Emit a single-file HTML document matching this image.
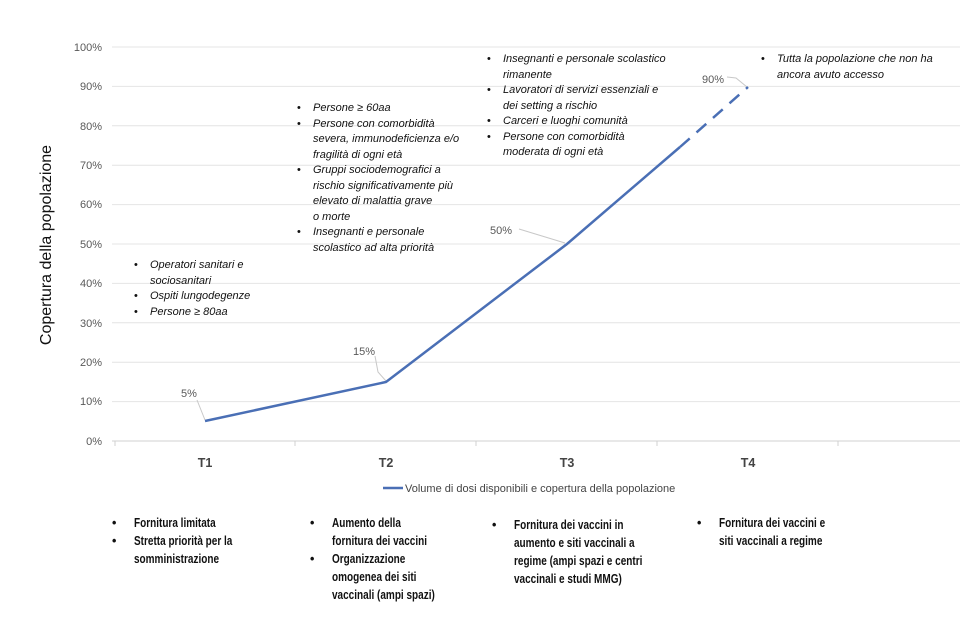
<!DOCTYPE html>
<html><head><meta charset="utf-8"><style>
html,body{margin:0;padding:0;background:#fff;width:980px;height:622px;overflow:hidden;font-family:"Liberation Sans",sans-serif}
.an{position:absolute;font-style:italic;font-size:11px;line-height:15.5px;color:#111;white-space:nowrap}
.an div{position:relative;padding-left:16px}
.an div:before{content:"•";position:absolute;left:0;font-style:normal}
.bt{position:absolute;font-weight:bold;font-size:12.5px;line-height:18px;color:#111}
.bt div{position:relative;padding-left:22px;white-space:nowrap}
.bt div span{display:inline-block;transform:scaleX(0.8);transform-origin:left}
.bt div:before{content:"•";position:absolute;left:0}
</style></head><body>
<svg width="980" height="622" style="position:absolute;left:0;top:0" font-family="Liberation Sans, sans-serif">
<g stroke="#e4e4e4" stroke-width="1">
<line x1="112" y1="47" x2="960" y2="47"/><line x1="112" y1="86.4" x2="960" y2="86.4"/>
<line x1="112" y1="125.8" x2="960" y2="125.8"/><line x1="112" y1="165.2" x2="960" y2="165.2"/>
<line x1="112" y1="204.6" x2="960" y2="204.6"/><line x1="112" y1="244" x2="960" y2="244"/>
<line x1="112" y1="283.4" x2="960" y2="283.4"/><line x1="112" y1="322.8" x2="960" y2="322.8"/>
<line x1="112" y1="362.2" x2="960" y2="362.2"/><line x1="112" y1="401.6" x2="960" y2="401.6"/>
</g>
<line x1="112" y1="441" x2="960" y2="441" stroke="#d0d0d0"/>
<g stroke="#d0d0d0"><line x1="115" y1="441" x2="115" y2="446"/><line x1="295" y1="441" x2="295" y2="446"/><line x1="476" y1="441" x2="476" y2="446"/><line x1="657" y1="441" x2="657" y2="446"/><line x1="838" y1="441" x2="838" y2="446"/></g>
<g font-size="11" fill="#595959" text-anchor="end">
<text x="102" y="51">100%</text><text x="102" y="90">90%</text><text x="102" y="130">80%</text>
<text x="102" y="169">70%</text><text x="102" y="208">60%</text><text x="102" y="248">50%</text>
<text x="102" y="287">40%</text><text x="102" y="327">30%</text><text x="102" y="366">20%</text>
<text x="102" y="405">10%</text><text x="102" y="445">0%</text>
</g>
<text transform="translate(51,245) rotate(-90)" text-anchor="middle" font-size="16" fill="#111">Copertura della popolazione</text>
<g font-size="12.5" font-weight="bold" fill="#444" text-anchor="middle">
<text x="205" y="467">T1</text><text x="386" y="467">T2</text><text x="567" y="467">T3</text><text x="748" y="467">T4</text>
</g>
<g stroke="#c8c8c8" stroke-width="1" fill="none">
<polyline points="197,400 205,420"/><polyline points="375,356 378,372 386,381"/>
<polyline points="519,229 565,243"/><polyline points="727,77 736,78 747,87"/>
</g>
<g font-size="11" fill="#595959">
<text x="181" y="397">5%</text><text x="353" y="355">15%</text><text x="490" y="234">50%</text><text x="702" y="83">90%</text>
</g>
<polyline points="205,421 386,382 567,244 680,147" fill="none" stroke="#4a6fb5" stroke-width="2.5"/>
<line x1="680" y1="147" x2="748" y2="87" stroke="#4a6fb5" stroke-width="2.5" stroke-dasharray="13,9"/>
<line x1="383" y1="488" x2="403" y2="488" stroke="#4a6fb5" stroke-width="2.5"/>
<text x="405" y="492" font-size="11" fill="#444">Volume di dosi disponibili e copertura della popolazione</text>
</svg>
<div class="an" style="left:134px;top:258px"><div>Operatori sanitari e<br>sociosanitari</div><div>Ospiti lungodegenze</div><div>Persone ≥ 80aa</div></div>
<div class="an" style="left:297px;top:101px"><div>Persone ≥ 60aa</div><div>Persone con comorbidità<br>severa, immunodeficienza e/o<br>fragilità di ogni età</div><div>Gruppi sociodemografici a<br>rischio significativamente più<br>elevato di malattia grave<br>o morte</div><div>Insegnanti e personale<br>scolastico ad alta priorità</div></div>
<div class="an" style="left:487px;top:52px"><div>Insegnanti e personale scolastico<br>rimanente</div><div>Lavoratori di servizi essenziali e<br>dei setting a rischio</div><div>Carceri e luoghi comunità</div><div>Persone con comorbidità<br>moderata di ogni età</div></div>
<div class="an" style="left:761px;top:52px"><div>Tutta la popolazione che non ha<br>ancora avuto accesso</div></div>
<div class="bt" style="left:112px;top:514px"><div><span>Fornitura limitata</span></div><div><span>Stretta priorità per la<br>somministrazione</span></div></div>
<div class="bt" style="left:310px;top:514px"><div><span>Aumento della<br>fornitura dei vaccini</span></div><div><span>Organizzazione<br>omogenea dei siti<br>vaccinali (ampi spazi)</span></div></div>
<div class="bt" style="left:492px;top:516px"><div><span>Fornitura dei vaccini in<br>aumento e siti vaccinali a<br>regime (ampi spazi e centri<br>vaccinali e studi MMG)</span></div></div>
<div class="bt" style="left:697px;top:514px"><div><span>Fornitura dei vaccini e<br>siti vaccinali a regime</span></div></div>
</body></html>
